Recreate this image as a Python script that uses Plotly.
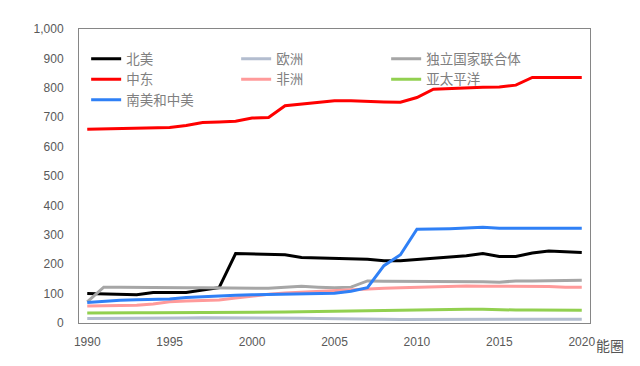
import plotly.graph_objects as go

years = list(range(1990, 2021))

north_america = [100, 99, 97, 96, 104, 104, 104, 112, 120, 236, 235, 233, 232, 223, 221, 220, 218, 217, 212, 212, 216, 220, 224, 229, 236, 226, 226, 238, 245, 242, 240]
europe = [15, 15, 16, 16, 16, 17, 17, 18, 18, 18, 18, 18, 17, 16, 15, 15, 14, 14, 13, 12, 12, 12, 12, 12, 12, 12, 12, 12, 12, 13, 13]
cis = [72, 122, 122, 121, 121, 120, 120, 120, 120, 120, 119, 118, 122, 125, 122, 120, 122, 143, 142, 142, 142, 142, 142, 141, 140, 139, 143, 143, 143, 144, 145]
middle_east = [659, 660, 661, 662, 663, 665, 672, 682, 684, 686, 697, 699, 739, 745, 750, 756, 756, 753, 752, 751, 767, 795, 798, 801, 802, 803, 809, 835, 835, 835, 835]
africa = [58, 58, 59, 60, 65, 72, 75, 76, 78, 85, 92, 98, 102, 105, 107, 110, 113, 116, 118, 120, 122, 123, 125, 126, 125, 125, 126, 125, 124, 122, 122]
asia_pacific = [34, 35, 35, 35, 35, 35, 36, 37, 37, 36, 37, 37, 37, 38, 39, 40, 41, 42, 44, 45, 46, 46, 47, 47, 47, 45, 44, 44, 43, 43, 43]
south_central_america = [70, 74, 77, 79, 80, 82, 87, 90, 92, 94, 96, 97, 98, 98, 100, 101, 108, 120, 195, 232, 319, 319, 321, 323, 326, 322, 322, 322, 323, 323, 322]

series_names = ["北美", "欧洲", "独立国家联合体", "中东", "非洲", "亚太平洋", "南美和中美"]
series_values = [north_america, europe, cis, middle_east, africa, asia_pacific, south_central_america]
series_colors = ["#000000", "#b3bdcf", "#a6a6a6", "#ff0000", "#ff9a9a", "#92d050", "#2f80f6"]

x_tick_vals = [1990, 1995, 2000, 2005, 2010, 2015, 2020]
y_tick_vals = list(range(0, 1001, 100))

fig = go.Figure()
for name, vals, col in zip(series_names, series_values, series_colors):
    fig.add_trace(go.Scatter(x=years, y=vals, mode="lines", name=name,
                             line=dict(color=col, width=3)))

axis_font = dict(family="Liberation Sans, Arial, sans-serif", size=12, color="#595959")

fig.update_layout(
    width=632, height=358,
    margin=dict(l=71, r=50, t=21, b=43),
    paper_bgcolor="white", plot_bgcolor="white",
    showlegend=True,
    legend=dict(
        orientation="h", x=0.014, xanchor="left", y=0.951, yanchor="top",
        entrywidth=105, entrywidthmode="pixels",
        font=dict(family="Noto Sans CJK SC", size=13.5, color="#808080"),
        bgcolor="rgba(0,0,0,0)", itemwidth=30, traceorder="normal",
    ),
    xaxis=dict(
        range=[1989.5, 2020.5], tickmode="array", tickvals=x_tick_vals,
        ticktext=[str(v) for v in x_tick_vals],
        showgrid=False, zeroline=False, showline=True, linecolor="#868686",
        linewidth=1, mirror=True, ticks="", tickfont=axis_font,
        ticklabelstandoff=8,
    ),
    yaxis=dict(
        range=[0, 1000], tickmode="array", tickvals=y_tick_vals,
        tickformat=",d", showgrid=False, zeroline=False, showline=True,
        linecolor="#868686", linewidth=1, mirror=True, ticks="",
        tickfont=axis_font, ticklabelstandoff=12,
    ),
)

fig.add_annotation(text="能圈", xref="paper", yref="paper", x=1.07, y=-0.075,
                   xanchor="right", yanchor="middle", showarrow=False,
                   font=dict(family="Noto Sans CJK SC", size=14, color="#555555"))

fig.write_html("out.html")
